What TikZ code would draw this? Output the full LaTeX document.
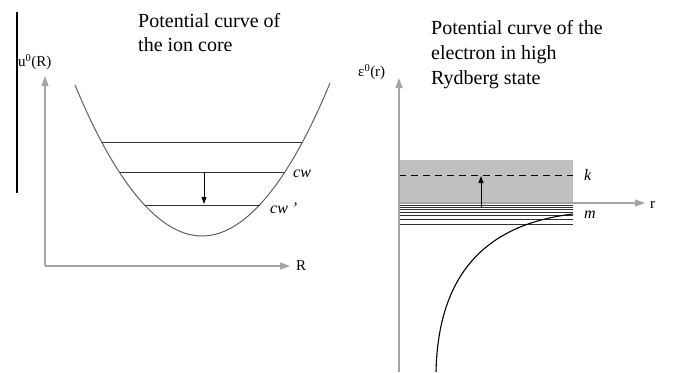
\documentclass[tikz,border=0pt]{standalone}
\usepackage{fontspec}
\setmainfont{Liberation Serif}
\usetikzlibrary{arrows.meta}
\definecolor{axisgray}{RGB}{165,165,165}
\definecolor{bandgray}{RGB}{192,192,192}
\definecolor{curvegray}{RGB}{95,95,95}
\definecolor{levelgray}{RGB}{50,50,50}
\begin{document}
\begin{tikzpicture}[x=1pt,y=-1pt,
    axis/.style={draw=axisgray,line width=1.2pt,-{Triangle[length=10pt,width=7pt]}},
    level/.style={draw=levelgray,line width=.9pt},
    jump/.style={line width=.9pt,-{Triangle[length=7pt,width=5pt]}},
    title/.style={font=\fontsize{20}{25}\selectfont,align=left,anchor=west,inner sep=0pt},
    lab/.style={font=\fontsize{15}{18}\selectfont,inner sep=0pt,anchor=west},
    ital/.style={font=\fontsize{16}{18}\selectfont\itshape,inner sep=0pt,anchor=west}]
  \useasboundingbox (0,0) rectangle (674,372);
  % left: ion core
  \draw[line width=1.2pt] (17,12) -- (17,193);
  \coordinate (o1) at (45,266);
  \coordinate (y1) at (45,76);
  \coordinate (x1) at (290,266);
  \draw[axis] (o1) -- (y1);
  \draw[axis] (o1) -- (x1);
  \node[lab] (u0) at (18,62) {u\textsuperscript{0}(R)};
  \node[lab] (bigR) at (296,266) {R};
  \node[title,font=\fontsize{20}{24}\selectfont] (t1) at (138,33) {Potential curve of\\the ion core};
  \draw[curvegray,line width=1pt] (75,85) parabola bend (202,236) (330,83);
  \foreach \y/\a/\b in {142/102/302,172/120/284,205/145/260}
    \draw[level] (\a,\y) -- (\b,\y);
  \coordinate (cwtop) at (204,172);
  \coordinate (cwbot) at (204,204);
  \draw[jump] (cwtop) -- (cwbot);
  \node[ital] (cw) at (293,174) {cw};
  \node[ital] (cwp) at (270,208) {cw '};
  % right: electron in high Rydberg state
  \fill[bandgray] (399,160) rectangle (573,203);
  \draw[dash pattern=on 7pt off 5pt,line width=.9pt] (399,175) -- (573,175);
  \foreach \y in {205.5,207.5,209.5,212,215,219,224}
    \draw[level,line width=.7pt] (399,\y) -- (573,\y);
  \coordinate (o2) at (399,372);
  \coordinate (y2) at (399,78);
  \coordinate (a2) at (399,203);
  \coordinate (x2) at (645,203);
  \draw[axis] (o2) -- (y2);
  \draw[axis] (a2) -- (x2);
  \coordinate (mtop) at (481,207);
  \coordinate (ktop) at (481,176);
  \draw[jump] (mtop) -- (ktop);
  \draw[line width=1.1pt] (573,214) .. controls (480,225) and (438,280) .. (436,372);
  \node[lab] (eps0) at (358,72) {ε\textsuperscript{0}(r)};
  \node[title] (t2) at (431,55) {Potential curve of the\\electron in high\\Rydberg state};
  \node[ital] (k) at (584,175) {k};
  \node[ital] (m) at (584,215) {m};
  \node[lab] (smallr) at (650,205) {r};
\end{tikzpicture}
\end{document}
